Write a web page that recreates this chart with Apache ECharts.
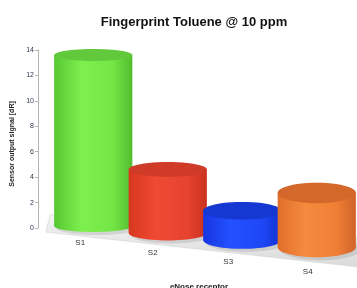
<!DOCTYPE html>
<html>
<head>
<meta charset="utf-8">
<script src="https://cdn.jsdelivr.net/npm/echarts@6/dist/echarts.min.js"></script>
<style>
  html, body { margin: 0; padding: 0; background: #fff; }
  #chart { width: 357px; height: 288px; }
</style>
</head>
<body>
<div id="chart"></div>
<script>
// --- data ---
const receptors = ["S1", "S2", "S3", "S4"];
const signal = [13.45, 5.0, 2.3, 4.25];
const yTicks = [0, 14, 2]; // min, max, interval

// body gradient stops (edge, highlight, mid, edge) and top cap colour
const bodyColors = [
  ["#57c733", "#7df04d", "#74e646", "#52bd2f"],
  ["#d8371f", "#ef4a33", "#e64330", "#c9321d"],
  ["#1636e0", "#2451ff", "#1e47f6", "#1131d2"],
  ["#e06e2a", "#f58b3e", "#ef7f35", "#d0642a"],
];
const capColors = ["#63c93c", "#d03b28", "#1538d2", "#d4682b"];

const chart = echarts.init(document.getElementById("chart"));

const floorSlope = 0.094; // px of drop per px to the right
const ellipse = (cx, cy, rx, ry, from, to, n) => {
  const pts = [];
  for (let k = 0; k <= n; k++) {
    const a = from + (to - from) * (k / n);
    pts.push([cx + rx * Math.cos(a), cy + ry * Math.sin(a)]);
  }
  return pts;
};

function renderItem(params, api) {
  const i = api.value(0);
  const x0 = api.coord([0, 0])[0];
  const base = api.coord([i, 0]);
  const top = api.coord([i, api.value(1)]);
  const band = api.size([1, 0])[0];
  const cx = base[0];
  const drop = (x) => (x - x0) * floorSlope - 2;
  const ryAt = (x) => 6 + (x - x0) * 0.019;
  const rx = band * 0.525;
  const ry = ryAt(cx);
  const by = base[1] + drop(cx);
  const ty = top[1] + drop(cx);
  const children = [];

  if (i === 0) {
    // slanted floor under all bars
    const xl = cx - band / 2 - 6;
    const xr = api.coord([receptors.length - 1, 0])[0] + band / 2 + 10;
    const yb = (x) => base[1] + drop(x) - ryAt(x) - 2;
    const yf = (x) => base[1] + drop(x) + ryAt(x) + 5;
    children.push({
      type: "polygon",
      shape: { points: [[xl, yb(xl)], [xr, yb(xr)], [xr, yf(xr)], [xl - 4, yf(xl)]] },
      style: {
        fill: { type: "linear", x: 0, y: 0, x2: 0, y2: 1, colorStops: [
          { offset: 0, color: "#f4f4f4" }, { offset: 1, color: "#dadada" } ] },
        stroke: "#d2d2d2", lineWidth: 0.6,
      },
    });
  }

  // shadow on the floor
  children.push({
    type: "polygon",
    shape: { points: ellipse(cx + 4, by + 2, rx + 2, ry + 1, 0, Math.PI * 2, 40) },
    style: { fill: "rgba(0,0,0,0.10)" },
  });

  // body: left side down, bottom arc through the front, right side up
  const c = bodyColors[i];
  const bottom = [];
  for (let k = 0; k <= 30; k++) {
    const a = Math.PI - Math.PI * (k / 30);
    bottom.push([cx + rx * Math.cos(a), by + ry * Math.sin(a)]);
  }
  children.push({
    type: "polygon",
    shape: { points: [[cx - rx, ty]].concat(bottom).concat([[cx + rx, ty]]) },
    style: {
      fill: { type: "linear", x: 0, y: 0, x2: 1, y2: 0, colorStops: [
        { offset: 0, color: c[0] }, { offset: 0.35, color: c[1] },
        { offset: 0.75, color: c[2] }, { offset: 1, color: c[3] } ] },
    },
  });
  children.push({
    type: "polygon",
    shape: { points: ellipse(cx, ty, rx, ry, 0, Math.PI * 2, 48) },
    style: { fill: capColors[i] },
  });
  return { type: "group", children };
}

const labelShift = [[0, 26], [10, 30], [19, 28], [29, 18]];
const rich = {};
labelShift.forEach((p, k) => {
  rich["l" + k] = { fontSize: 8, color: "#333", fontFamily: "Liberation Sans", padding: [p[0], p[1], 0, 0] };
});

chart.setOption({
  backgroundColor: "#fff",
  animation: false,
  title: {
    text: "Fingerprint Toluene @ 10 ppm",
    left: 189,
    top: 11,
    textAlign: "center",
    textStyle: { fontSize: 13, fontWeight: "bold", color: "#111", fontFamily: "Liberation Sans" },
  },
  grid: { left: 56, right: 3, top: 50, bottom: 60, outerBoundsMode: "none", containLabel: false },
  xAxis: {
    type: "category",
    data: receptors,
    axisLine: { show: false },
    axisTick: { show: false },
    axisLabel: {
      margin: 11,
      formatter: (v, idx) => "{l" + idx + "|" + v + "}",
      rich,
    },
    name: "eNose receptor",
    nameLocation: "middle",
    nameGap: 55,
    nameTextStyle: { fontSize: 8, fontWeight: "bold", color: "#222", fontFamily: "Liberation Sans", padding: [0, 12, 0, 0] },
  },
  yAxis: {
    type: "value",
    min: yTicks[0],
    max: yTicks[1],
    interval: yTicks[2],
    offset: 18,
    axisLine: { show: true, lineStyle: { color: "#b5b5b5", width: 1 } },
    axisTick: { show: true, length: 3, lineStyle: { color: "#b5b5b5" } },
    splitLine: { show: false },
    axisLabel: { fontSize: 7, color: "#2a3550", margin: 4, fontFamily: "Liberation Sans" },
    name: "Sensor output signal [dR]",
    nameLocation: "middle",
    nameGap: 15,
    nameTextStyle: { fontSize: 7, fontWeight: "bold", color: "#222", fontFamily: "Liberation Sans", padding: [0, 10, 0, 0] },
  },
  series: [
    {
      type: "custom",
      renderItem,
      clip: false,
      data: signal.map((v, i) => [i, v]),
    },
  ],
});
</script>
</body>
</html>
